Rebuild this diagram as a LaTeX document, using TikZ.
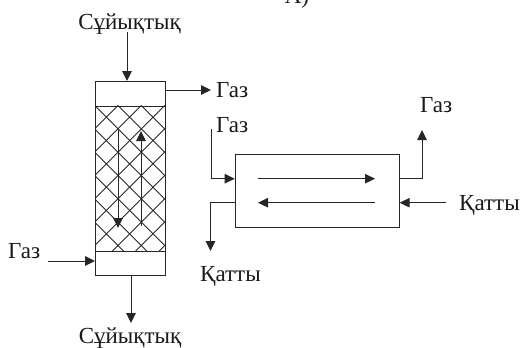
\documentclass[tikz,border=0pt]{standalone}
\usepackage{fontspec}
\setmainfont{Liberation Serif}
\usetikzlibrary{arrows.meta}
\tikzset{
  x=1bp,y=-1bp,
  line/.style={draw=black!85,line width=1bp},
  flow/.style={line,-{Triangle[length=10bp,width=9.5bp]}},
  box/.style={draw=black!85,line width=1bp,fill=none,rectangle,inner sep=0pt,anchor=north west},
  lab/.style={inner sep=0pt,font=\fontsize{23bp}{23bp}\selectfont,text=black!90,anchor=base west},
  labc/.style={lab,anchor=base},
}
\begin{document}
\begin{tikzpicture}
\useasboundingbox (0,0) rectangle (522,347);
% column
\begin{scope}
\clip (95,105.5) rectangle (165,251);
\foreach \k in {-6,...,12}{
  \draw[black!85,line width=0.9bp] (118+\k*23.33,105.5) -- ++(160,160);
  \draw[black!85,line width=0.9bp] (118+\k*23.33,105.5) -- ++(-160,160);
}
\end{scope}
\node[box,minimum width=70bp,minimum height=24.5bp] (top) at (95,81) {};
\node[box,minimum width=70bp,minimum height=145.5bp] (mid) at (95,105.5) {};
\node[box,minimum width=70bp,minimum height=24bp] (bot) at (95,251) {};
% exchanger
\node[box,minimum width=164bp,minimum height=72.7bp] (ex) at (234.7,154) {};
% labels
\node[labc] (liqin) at (129.5,29) {Сұйықтық};
\node[lab] (gasout) at (216,97.3) {Газ};
\node[lab] (gasin2) at (216,132) {Газ};
\node[lab] (gasout2) at (420,112.8) {Газ};
\node[lab] (gasin) at (8,258.5) {Газ};
\node[lab] (solidin) at (459,210) {Қатты};
\node[lab] (solidout) at (200,281.7) {Қатты};
\node[labc] (liqout) at (130,343) {Сұйықтық};
\node[labc] (tag) at (297,3) {А)};
% free ends
\coordinate (a1) at (127,32);
\coordinate (a2) at (211,90);
\coordinate (a3) at (47.5,261);
\coordinate (a4) at (131,323);
\coordinate (b1) at (211.7,129);
\coordinate (b2) at (422,130);
\coordinate (b3) at (446,202.7);
\coordinate (b4) at (210.5,251);
\coordinate (d1) at (118,130);
\coordinate (d2) at (118,228);
\coordinate (u1) at (141,226);
\coordinate (u2) at (141,131);
\coordinate (r1) at (258,178.7);
\coordinate (r2) at (375,178.7);
\coordinate (l1) at (375,202.7);
\coordinate (l2) at (258,202.7);
% connectors
\draw[flow] (a1) -- (a1 |- top.north);
\draw[flow] (top.east |- a2) -- (a2);
\draw[flow] (a3) -- (a3 -| bot.west);
\draw[flow] (a4 |- bot.south) -- (a4);
\draw[flow] (b1) |- (r1 -| ex.west);
\draw[flow] (r1 -| ex.east) -| (b2);
\draw[flow] (b3) -- (b3 -| ex.east);
\draw[flow] (b3 -| ex.west) -| (b4);
\draw[flow] (d1) -- (d2);
\draw[flow] (u1) -- (u2);
\draw[flow] (r1) -- (r2);
\draw[flow] (l1) -- (l2);
\end{tikzpicture}
\end{document}
